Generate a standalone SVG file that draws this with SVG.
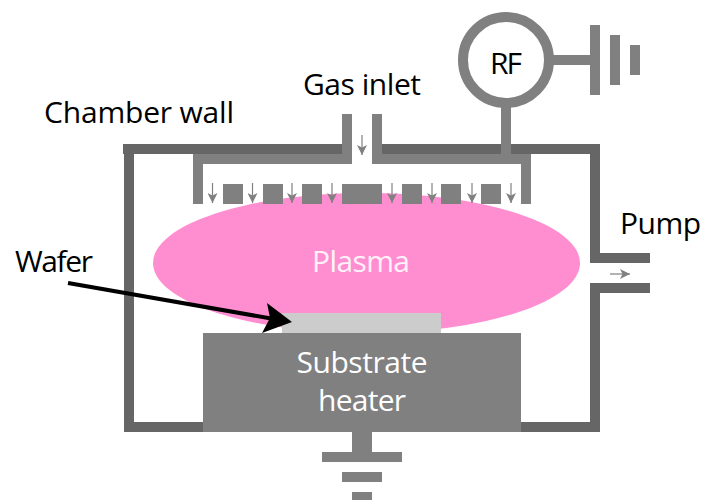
<svg xmlns="http://www.w3.org/2000/svg" width="702" height="500" viewBox="0 0 702 500">
<style>
.w{fill:#666}
.g{fill:#808080}
.t{font-family:"Open Sans","Liberation Sans",sans-serif;font-size:30px;fill:#000}
.l{fill:#fff}
.a{stroke:#808080;stroke-width:1.2;fill:none;marker-end:url(#ah)}
</style>
<defs>
<marker id="ah" markerUnits="userSpaceOnUse" markerWidth="10" markerHeight="10" refX="10" refY="5" orient="auto"><path d="M0 0L10 5L0 10L2.500 5Z" fill="#808080"/></marker>
</defs>
<rect width="702" height="500" fill="#fff"/>
<g id="plasma"><ellipse cx="366.500" cy="263" rx="213.500" ry="70" fill="#ff8ed0"/><text class="t l" x="361" y="272" text-anchor="middle" textLength="98" fill-opacity=".9">Plasma</text></g>
<g id="chamber-wall">
<rect class="w" x="123" y="144" width="225" height="10"/>
<rect class="w" x="376" y="144" width="224" height="10"/>
<rect class="w" x="124" y="144" width="10" height="288"/>
<rect class="w" x="124" y="422" width="90" height="10"/>
<rect class="w" x="511" y="422" width="89" height="10"/>
<rect class="w" x="590" y="144" width="10" height="119"/>
<rect class="w" x="590" y="253" width="60" height="10"/>
<rect class="w" x="590" y="283" width="60" height="10"/>
<rect class="w" x="590" y="283" width="10" height="149"/>
<text class="t" x="44" y="123" textLength="190">Chamber wall</text>
</g>
<g id="showerhead">
<path class="g" d="M342 114h10v50H203v40h-10v-50h149Z"/>
<path class="g" d="M372 114h10v40h149v50h-10v-40H372Z"/>
<rect class="g" x="223" y="184" width="20" height="20"/>
<rect class="g" x="263" y="184" width="20" height="20"/>
<rect class="g" x="302" y="184" width="20" height="20"/>
<rect class="g" x="342" y="184" width="40" height="20"/>
<rect class="g" x="402" y="184" width="20" height="20"/>
<rect class="g" x="441" y="184" width="20" height="20"/>
<rect class="g" x="481" y="184" width="20" height="20"/>
</g>
<g id="gas-inlet"><text class="t" x="303" y="95" textLength="118">Gas inlet</text></g>
<g id="rf">
<rect class="g" x="501" y="100" width="10" height="54"/>
<rect class="g" x="550" y="55" width="45" height="10"/>
<circle cx="506" cy="60" r="43" fill="#fff" stroke="#808080" stroke-width="10"/>
<rect class="g" x="590" y="25" width="10" height="70"/>
<rect class="g" x="610" y="35" width="10" height="50"/>
<rect class="g" x="630" y="45" width="10" height="30"/>
<text class="t" x="506" y="74" text-anchor="middle" textLength="32">RF</text>
</g>
<g id="pump"><text class="t" x="620" y="234" textLength="81">Pump</text></g>
<g id="heater">
<rect class="g" x="203" y="333" width="318" height="99"/>
<text class="t l" x="362" y="373" text-anchor="middle" textLength="131">Substrate</text>
<text class="t l" x="362" y="411" text-anchor="middle" textLength="88">heater</text>
</g>
<g id="wafer"><rect x="282" y="313" width="159" height="20" fill="#ccc"/><text class="t" x="15" y="272" textLength="78">Wafer</text></g>
<g id="ground">
<rect class="g" x="352" y="432" width="20" height="25"/>
<rect class="g" x="322" y="452" width="80" height="10"/>
<rect class="g" x="342" y="472" width="40" height="10"/>
<rect class="g" x="352" y="492" width="20" height="8"/>
</g>
<g id="connectors">
<line class="a" x1="212.500" y1="183" x2="212.500" y2="203"/>
<line class="a" x1="252.500" y1="183" x2="252.500" y2="203"/>
<line class="a" x1="292" y1="183" x2="292" y2="203"/>
<line class="a" x1="332" y1="183" x2="332" y2="203"/>
<line class="a" x1="392" y1="183" x2="392" y2="203"/>
<line class="a" x1="432" y1="183" x2="432" y2="203"/>
<line class="a" x1="472" y1="183" x2="472" y2="203"/>
<line class="a" x1="511" y1="183" x2="511" y2="203"/>
<line class="a" x1="362" y1="135" x2="362" y2="155"/>
<line class="a" x1="610" y1="274" x2="630" y2="274"/>
<line x1="68" y1="283" x2="274" y2="319" stroke="#000" stroke-width="4"/>
<path d="M292 322L262 333L270 318L267 303Z" fill="#000"/>
</g>
</svg>
